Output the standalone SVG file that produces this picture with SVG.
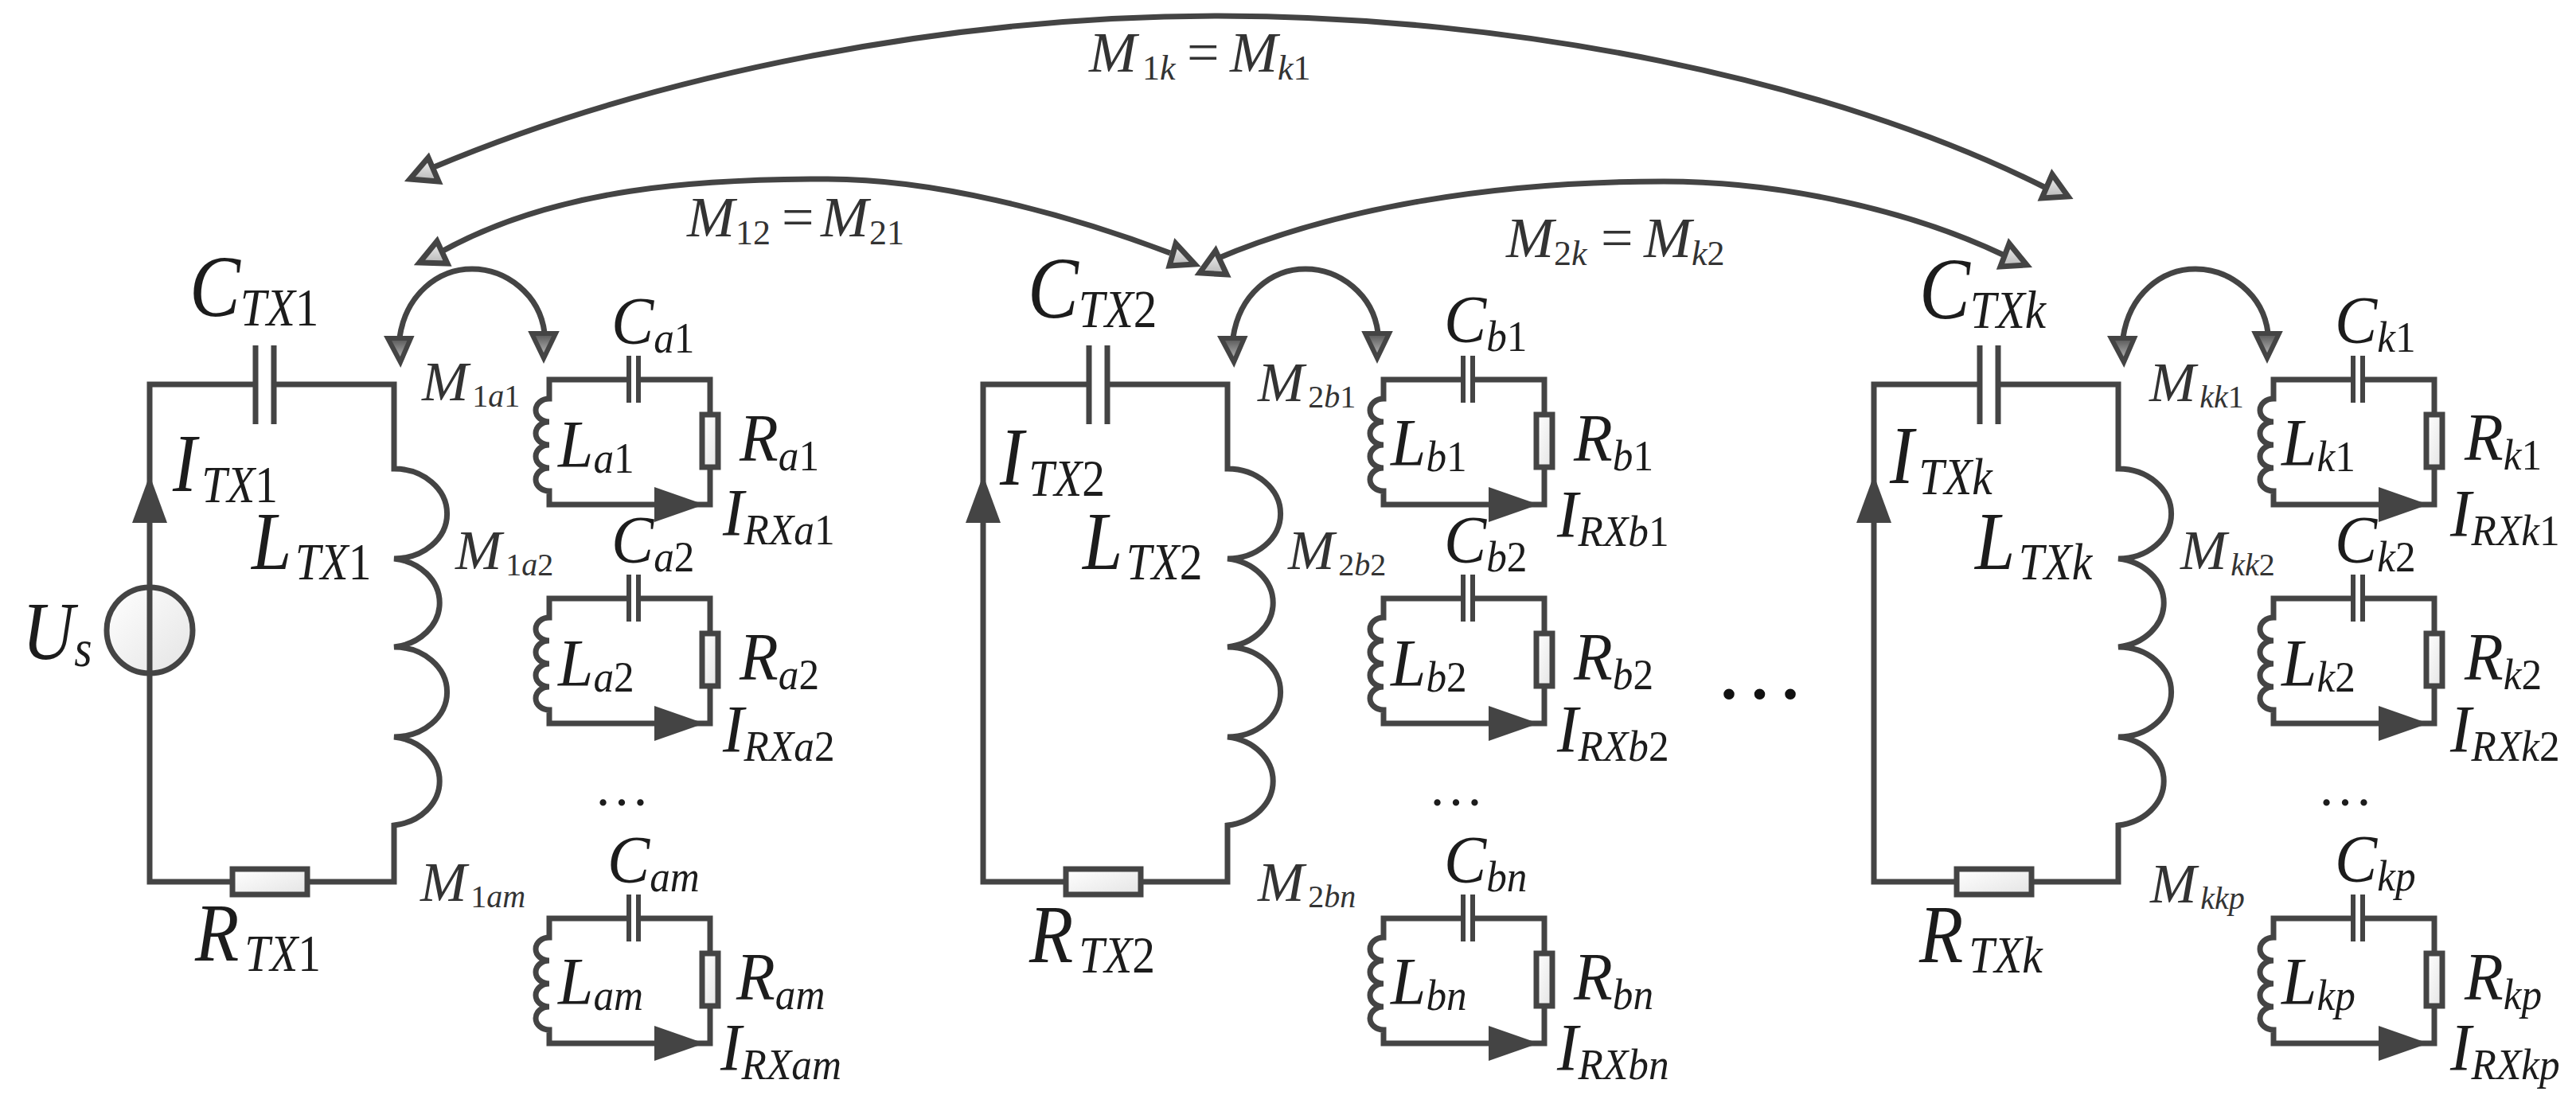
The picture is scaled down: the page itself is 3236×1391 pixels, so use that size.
<svg xmlns="http://www.w3.org/2000/svg" xmlns:xlink="http://www.w3.org/1999/xlink" width="3236" height="1391" viewBox="0 0 3236 1391">
<style>
.w{fill:none;stroke:#444;stroke-width:7;stroke-linejoin:miter}
.p{fill:none;stroke:#444;stroke-width:6}
.r{fill:url(#gr);stroke:#444;stroke-width:7}
.a{fill:#444}
.hl{fill:url(#gl);stroke:#444;stroke-width:7}
.hd{fill:url(#gd);stroke:#444;stroke-width:6}
text{font-family:"Liberation Serif","Times New Roman",serif;font-style:italic;fill:#1c1c1c}
.n{font-style:normal}
.X{font-size:110px}.X .s{font-size:68px}
.L{font-size:104px}.L .s{font-size:66px}
.D{font-size:84px}.D .s{font-size:54px}
.M{font-size:70px;fill:#333}.M .s{font-size:40px}
.E{font-size:72px;fill:#333}.E .s{font-size:44px}
.dots{font-size:70px;font-style:normal}
.big{font-size:115px;font-style:normal;fill:#111}
</style>
<defs>
<linearGradient id="gr" x1="0" y1="0" x2="1" y2="1"><stop offset="0" stop-color="#fff"/><stop offset="1" stop-color="#e4e4e4"/></linearGradient>
<linearGradient id="gl" x1="0" y1="0" x2="0" y2="1"><stop offset="0" stop-color="#f2f2f2"/><stop offset="1" stop-color="#b8b8b8"/></linearGradient>
<linearGradient id="gd" x1="0" y1="0" x2="0" y2="1"><stop offset="0" stop-color="#555"/><stop offset="1" stop-color="#c4c4c4"/></linearGradient>
<g id="rxc">
<path class="w" d="M790 477H690V501A17 14.5 0 0 0 690 530A17 14.5 0 0 0 690 559A17 14.5 0 0 0 690 588A17 14.5 0 0 0 690 617V634H892V587M892 521V477H802"/>
<path class="p" d="M790 447V506M802 447V506"/>
<rect class="r" x="882" y="521" width="20" height="66"/>
<polygon class="a" points="822,612 885,634 822,656"/>
</g>
<g id="txc">
<path class="w" d="M321 483H188V1108H292M344 483H495V589A66 56 0 0 1 495 702A66 56 0 0 1 495 813A66 56 0 0 1 495 926A66 56 0 0 1 495 1037V1108H386"/>
<path class="w" d="M321 434V533M344 434V533"/>
<rect class="r" x="292" y="1092" width="94" height="32"/>
<polygon class="a" points="188,597 166,657 210,657"/>
</g>
<g id="cpl">
<path class="w" d="M502 424C510 370 550 338 593 338C636 338 678 370 684 418"/>
<polygon class="hd" points="487,425 516,425 503,455"/>
<polygon class="hd" points="668,419 698,419 683,450"/>
</g>
</defs>

<g id="connectors">
<path class="w" d="M545 210C830 90 1200 20 1530 20C1900 20 2300 100 2568 235"/>
<polygon class="hl" points="538,198 515,225 551,228"/>
<polygon class="hl" points="2578,219 2565,249 2598,247"/>
<path class="w" d="M553 317C700 235 880 225 1040 225C1170 225 1330 265 1470 318"/>
<polygon class="hl" points="549,303 527,330 562,331"/>
<polygon class="hl" points="1477,306 1469,334 1501,332"/>
<path class="w" d="M1524 327C1680 260 1880 228 2090 228C2240 228 2400 265 2516 320"/>
<polygon class="hl" points="1527,315 1507,343 1541,345"/>
<polygon class="hl" points="2524,306 2513,335 2546,333"/>
<use xlink:href="#cpl" href="#cpl"/>
<use xlink:href="#cpl" href="#cpl" x="1047"/>
<use xlink:href="#cpl" href="#cpl" x="2165"/>
</g>

<g id="tx-1">
<use xlink:href="#txc" href="#txc"/>
<circle cx="188" cy="792" r="54" fill="url(#gr)" stroke="#444" stroke-width="7"/>
<path class="w" d="M188 738V846"/>
<text class="L" transform="translate(28,828) scale(.87,1)">U<tspan class="s" dy="9">s</tspan></text>
<text class="X" transform="translate(238,397) scale(.87,1)">C<tspan class="s" dy="12">TX<tspan class="n">1</tspan></tspan></text>
<text class="L" transform="translate(217,617) scale(.87,1)">I<tspan class="s" dx="7" dy="14">TX<tspan class="n">1</tspan></tspan></text>
<text class="L" transform="translate(316,715) scale(.87,1)">L<tspan class="s" dx="5" dy="13">TX<tspan class="n">1</tspan></tspan></text>
<text class="L" transform="translate(245,1207) scale(.87,1)">R<tspan class="s" dx="8" dy="13">TX<tspan class="n">1</tspan></tspan></text>
</g>
<g id="tx-2">
<use xlink:href="#txc" href="#txc" x="1047"/>
<text class="X" transform="translate(1291,399) scale(.87,1)">C<tspan class="s" dy="12">TX<tspan class="n">2</tspan></tspan></text>
<text class="L" transform="translate(1256,609) scale(.87,1)">I<tspan class="s" dx="7" dy="14">TX<tspan class="n">2</tspan></tspan></text>
<text class="L" transform="translate(1360,715) scale(.87,1)">L<tspan class="s" dx="5" dy="13">TX<tspan class="n">2</tspan></tspan></text>
<text class="L" transform="translate(1293,1209) scale(.87,1)">R<tspan class="s" dx="8" dy="13">TX<tspan class="n">2</tspan></tspan></text>
</g>
<g id="tx-k">
<use xlink:href="#txc" href="#txc" x="2166"/>
<text class="X" transform="translate(2411,400) scale(.87,1)">C<tspan class="s" dy="12">TXk</tspan></text>
<text class="L" transform="translate(2374,607) scale(.87,1)">I<tspan class="s" dx="7" dy="14">TXk</tspan></text>
<text class="L" transform="translate(2481,715) scale(.87,1)">L<tspan class="s" dx="5" dy="13">TXk</tspan></text>
<text class="L" transform="translate(2411,1209) scale(.87,1)">R<tspan class="s" dx="8" dy="13">TXk</tspan></text>
</g>

<g id="rx-a1">
<use xlink:href="#rxc" href="#rxc"/>
<text class="D" transform="translate(768,432) scale(.95,1)">C<tspan class="s" dy="11">a<tspan class="n">1</tspan></tspan></text>
<text class="D" transform="translate(701,587) scale(.95,1)">L<tspan class="s" dy="7">a<tspan class="n">1</tspan></tspan></text>
<text class="D" transform="translate(929,579) scale(.95,1)">R<tspan class="s" dy="12">a<tspan class="n">1</tspan></tspan></text>
<text class="D" transform="translate(908,673) scale(.95,1)">I<tspan class="s" dy="11">RXa<tspan class="n">1</tspan></tspan></text>
</g>
<g id="rx-a2">
<use xlink:href="#rxc" href="#rxc" y="275"/>
<text class="D" transform="translate(768,707) scale(.95,1)">C<tspan class="s" dy="11">a<tspan class="n">2</tspan></tspan></text>
<text class="D" transform="translate(701,862) scale(.95,1)">L<tspan class="s" dy="7">a<tspan class="n">2</tspan></tspan></text>
<text class="D" transform="translate(929,854) scale(.95,1)">R<tspan class="s" dy="12">a<tspan class="n">2</tspan></tspan></text>
<text class="D" transform="translate(908,945) scale(.95,1)">I<tspan class="s" dy="11">RXa<tspan class="n">2</tspan></tspan></text>
</g>
<g id="rx-am">
<use xlink:href="#rxc" href="#rxc" y="677"/>
<text class="D" transform="translate(763,1109) scale(.95,1)">C<tspan class="s" dy="11">am</tspan></text>
<text class="D" transform="translate(701,1262) scale(.95,1)">L<tspan class="s" dy="7">am</tspan></text>
<text class="D" transform="translate(925,1256) scale(.95,1)">R<tspan class="s" dy="12">am</tspan></text>
<text class="D" transform="translate(905,1345) scale(.95,1)">I<tspan class="s" dy="11">RXam</tspan></text>
</g>
<g id="rx-b1">
<use xlink:href="#rxc" href="#rxc" x="1048"/>
<text class="D" transform="translate(1814,430) scale(.95,1)">C<tspan class="s" dy="11">b<tspan class="n">1</tspan></tspan></text>
<text class="D" transform="translate(1747,585) scale(.95,1)">L<tspan class="s" dy="7">b<tspan class="n">1</tspan></tspan></text>
<text class="D" transform="translate(1977,579) scale(.95,1)">R<tspan class="s" dy="12">b<tspan class="n">1</tspan></tspan></text>
<text class="D" transform="translate(1956,675) scale(.95,1)">I<tspan class="s" dy="11">RXb<tspan class="n">1</tspan></tspan></text>
</g>
<g id="rx-b2">
<use xlink:href="#rxc" href="#rxc" x="1048" y="275"/>
<text class="D" transform="translate(1814,707) scale(.95,1)">C<tspan class="s" dy="11">b<tspan class="n">2</tspan></tspan></text>
<text class="D" transform="translate(1747,862) scale(.95,1)">L<tspan class="s" dy="7">b<tspan class="n">2</tspan></tspan></text>
<text class="D" transform="translate(1977,854) scale(.95,1)">R<tspan class="s" dy="12">b<tspan class="n">2</tspan></tspan></text>
<text class="D" transform="translate(1956,945) scale(.95,1)">I<tspan class="s" dy="11">RXb<tspan class="n">2</tspan></tspan></text>
</g>
<g id="rx-bn">
<use xlink:href="#rxc" href="#rxc" x="1048" y="677"/>
<text class="D" transform="translate(1814,1109) scale(.95,1)">C<tspan class="s" dy="11">bn</tspan></text>
<text class="D" transform="translate(1747,1262) scale(.95,1)">L<tspan class="s" dy="7">bn</tspan></text>
<text class="D" transform="translate(1977,1256) scale(.95,1)">R<tspan class="s" dy="12">bn</tspan></text>
<text class="D" transform="translate(1956,1345) scale(.95,1)">I<tspan class="s" dy="11">RXbn</tspan></text>
</g>
<g id="rx-k1">
<use xlink:href="#rxc" href="#rxc" x="2166"/>
<text class="D" transform="translate(2933,431) scale(.95,1)">C<tspan class="s" dy="11">k<tspan class="n">1</tspan></tspan></text>
<text class="D" transform="translate(2866,585) scale(.95,1)">L<tspan class="s" dy="7">k<tspan class="n">1</tspan></tspan></text>
<text class="D" transform="translate(3096,578) scale(.95,1)">R<tspan class="s" dy="12">k<tspan class="n">1</tspan></tspan></text>
<text class="D" transform="translate(3078,674) scale(.95,1)">I<tspan class="s" dy="11">RXk<tspan class="n">1</tspan></tspan></text>
</g>
<g id="rx-k2">
<use xlink:href="#rxc" href="#rxc" x="2166" y="275"/>
<text class="D" transform="translate(2933,707) scale(.95,1)">C<tspan class="s" dy="11">k<tspan class="n">2</tspan></tspan></text>
<text class="D" transform="translate(2866,862) scale(.95,1)">L<tspan class="s" dy="7">k<tspan class="n">2</tspan></tspan></text>
<text class="D" transform="translate(3096,854) scale(.95,1)">R<tspan class="s" dy="12">k<tspan class="n">2</tspan></tspan></text>
<text class="D" transform="translate(3078,945) scale(.95,1)">I<tspan class="s" dy="11">RXk<tspan class="n">2</tspan></tspan></text>
</g>
<g id="rx-kp">
<use xlink:href="#rxc" href="#rxc" x="2166" y="677"/>
<text class="D" transform="translate(2933,1108) scale(.95,1)">C<tspan class="s" dy="11">kp</tspan></text>
<text class="D" transform="translate(2866,1262) scale(.95,1)">L<tspan class="s" dy="7">kp</tspan></text>
<text class="D" transform="translate(3096,1256) scale(.95,1)">R<tspan class="s" dy="12">kp</tspan></text>
<text class="D" transform="translate(3078,1345) scale(.95,1)">I<tspan class="s" dy="11">RXkp</tspan></text>
</g>

<g id="mutual-labels">
<text class="M" x="530" y="503">M<tspan class="s" dx="5" dy="8"><tspan class="n">1</tspan>a<tspan class="n">1</tspan></tspan></text>
<text class="M" x="572" y="715">M<tspan class="s" dx="5" dy="8"><tspan class="n">1</tspan>a<tspan class="n">2</tspan></tspan></text>
<text class="M" x="528" y="1132">M<tspan class="s" dx="5" dy="8"><tspan class="n">1</tspan>am</tspan></text>
<text class="M" x="1580" y="504">M<tspan class="s" dx="5" dy="8"><tspan class="n">2</tspan>b<tspan class="n">1</tspan></tspan></text>
<text class="M" x="1618" y="715">M<tspan class="s" dx="5" dy="8"><tspan class="n">2</tspan>b<tspan class="n">2</tspan></tspan></text>
<text class="M" x="1580" y="1132">M<tspan class="s" dx="5" dy="8"><tspan class="n">2</tspan>bn</tspan></text>
<text class="M" x="2700" y="504">M<tspan class="s" dx="5" dy="8">kk<tspan class="n">1</tspan></tspan></text>
<text class="M" x="2739" y="715">M<tspan class="s" dx="5" dy="8">kk<tspan class="n">2</tspan></tspan></text>
<text class="M" x="2701" y="1134">M<tspan class="s" dx="5" dy="8">kkp</tspan></text>
<text class="E" x="1368" y="90">M<tspan class="s" x="1435" dy="10"><tspan class="n">1</tspan>k</tspan><tspan class="n" x="1491" dy="-10">=</tspan><tspan x="1545">M</tspan><tspan class="s" x="1605" dy="10">k<tspan class="n">1</tspan></tspan></text>
<text class="E" x="863" y="297">M<tspan class="s" x="924" dy="10"><tspan class="n">12</tspan></tspan><tspan class="n" x="982" dy="-10">=</tspan><tspan x="1031">M</tspan><tspan class="s" x="1092" dy="10"><tspan class="n">21</tspan></tspan></text>
<text class="E" x="1892" y="323">M<tspan class="s" x="1952" dy="10"><tspan class="n">2</tspan>k</tspan><tspan class="n" x="2011" dy="-10">=</tspan><tspan x="2065">M</tspan><tspan class="s" x="2125" dy="10">k<tspan class="n">2</tspan></tspan></text>
</g>
<g id="ellipses">
<text class="dots" x="746" y="1012">…</text>
<text class="dots" x="1794" y="1012">…</text>
<text class="dots" x="2911" y="1012">…</text>
<text class="big" x="2153" y="877">…</text>
</g>
</svg>
